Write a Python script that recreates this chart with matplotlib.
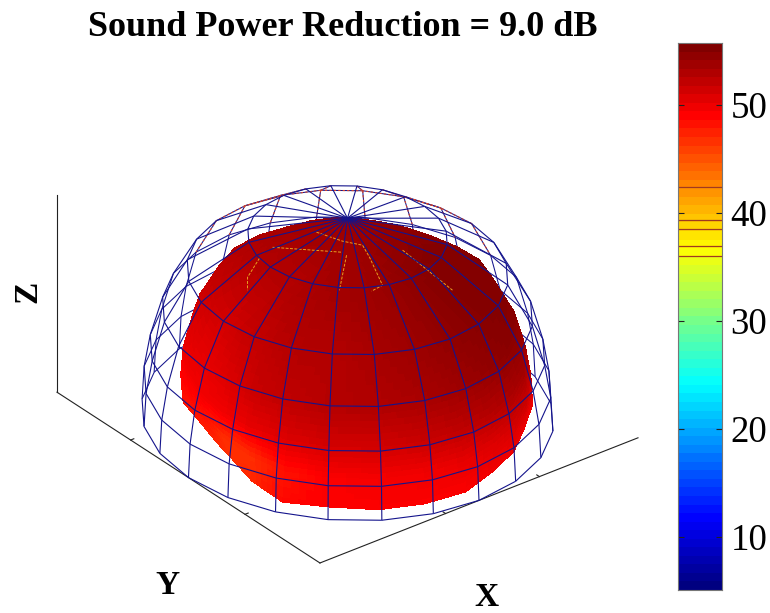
import numpy as np
import matplotlib
matplotlib.use("Agg")
import matplotlib.pyplot as plt
from matplotlib.colors import LinearSegmentedColormap, Normalize
from mpl_toolkits.mplot3d import proj3d
from mpl_toolkits.mplot3d.art3d import Line3DCollection

title = "Sound Power Reduction = 9.0 dB"
cbar_ticks = [10, 20, 30, 40, 50]
cbar_min, cbar_max = 5.1, 55.7
contour_levels = [42.4, 39.3, 38.5, 36.9, 36.0]

# meridians every 15 degrees, starting at -180
azimuth_deg = np.arange(-180, 180, 15)
# wire dome rings, pole to rim
wire_rho = [0.0, 0.485, 0.78, 0.90, 0.96, 0.99, 1.0]
wire_height = [1.0, 0.906, 0.725, 0.525, 0.33, 0.167, 0.0]

# inner radiation surface: scale relative to the wire dome
dome_radius = [.84, .85, .87, .88, .88, .88, .88, .88, .89, .90, .91, .90,
               .88, .87, .86, .86, .86, .86, .86, .86, .85, .84, .83, .83]
rim_radius = [.72, .80, .90, .88, .90, .90, .90, .86, .86, .86, .91, .90,
              .88, .87, .86, .86, .86, .86, .86, .86, .86, .80, .72, .70]
rim_blend = [0, 0, 0, 0, .15, .5, 1]

# sound pressure level on the surface (dB): one list per ring, pole to rim
spl_ring0 = [54.0] * 24
spl_ring1 = [53.0, 53.3, 53.6, 53.8, 54.0, 54.3, 54.6, 55.0, 55.3, 55.5, 55.5, 55.3,
             55.0, 54.8, 54.6, 54.4, 54.2, 54.0, 53.8, 53.6, 53.4, 53.2, 53.0, 53.0]
spl_ring2 = [52.0, 52.5, 53.0, 53.0, 53.5, 54.0, 54.5, 55.0, 55.3, 55.5, 55.5, 55.3,
             55.0, 54.6, 54.2, 54.0, 53.8, 53.6, 53.4, 53.0, 52.6, 52.2, 51.8, 51.5]
spl_ring3 = [51.0, 52.0, 52.5, 53.0, 53.2, 53.5, 54.0, 54.5, 55.0, 55.2, 55.2, 55.0,
             54.6, 54.2, 53.8, 53.5, 53.2, 53.0, 52.6, 52.2, 51.8, 51.2, 50.8, 50.5]
spl_ring4 = [50.0, 50.5, 51.0, 51.5, 51.5, 52.0, 52.5, 53.0, 53.5, 54.0, 54.0, 53.8,
             53.4, 53.0, 52.6, 52.2, 52.0, 51.6, 51.2, 50.8, 50.4, 50.2, 50.0, 50.0]
spl_ring5 = [47.0, 47.0, 48.5, 49.5, 49.8, 50.0, 50.5, 51.0, 51.5, 52.0, 52.0, 51.8,
             51.4, 51.0, 50.8, 50.5, 50.2, 50.0, 49.8, 49.6, 49.4, 49.2, 49.0, 48.5]
spl_ring6 = [47.0, 47.5, 49.0, 49.5, 49.5, 49.5, 49.5, 50.0, 50.0, 50.0, 50.0, 50.0,
             50.0, 49.8, 49.6, 49.5, 49.5, 49.5, 49.5, 49.5, 49.0, 48.5, 48.0, 47.5]

# contour fragments on the surface (x, y, at height contour_z)
contour_z = 0.75
contour_a_x = [-.172, .072]
contour_a_y = [.362, .125]
contour_b_x = [.070, -.169]
contour_b_y = [.092, -.143]
contour_c_x = [.091, .139, .193, .148, .030, -.049]
contour_c_y = [.346, .206, .119, .012, -.230, -.242]
contour_d_x = [-.289, -.451, -.529]
contour_d_y = [.320, .215, .121]
contour_e_x = [.320, .274]
contour_e_y = [-.032, -.467]

x_floor_ticks = [-0.21, 0.38]
y_floor_ticks = [0.44, -0.43]

plt.rcParams['font.family'] = ['Liberation Serif', 'DejaVu Serif']

# MATLAB-style jet
jet = LinearSegmentedColormap.from_list("mjet", [
    (0, (0, 0, .5)), (1/8, (0, 0, 1)), (3/8, (0, 1, 1)),
    (5/8, (1, 1, 0)), (7/8, (1, 0, 0)), (1, (.5, 0, 0))], N=256)
jet64 = LinearSegmentedColormap.from_list("mjet64", [jet(i / 63) for i in range(64)], N=64)
norm = Normalize(cbar_min, cbar_max)

W, H = 770, 613
fig = plt.figure(figsize=(W / 100, H / 100), dpi=100, facecolor='white')

ELEV, AZIM = 30.37, -127.9
size_px = 660
ax = fig.add_axes([0, 0, size_px / W, size_px / H], projection='3d', computed_zorder=False)
ax.set_proj_type('ortho')
ax.view_init(elev=ELEV, azim=AZIM)
ax.set_box_aspect((403, 428, 228))
ax.set_axis_off()
ax.patch.set_alpha(0)

rho = np.array(wire_rho)
hgt = np.array(wire_height)
phi = np.deg2rad(np.r_[azimuth_deg, azimuth_deg[0] + 360])
WX = np.outer(rho, np.cos(phi))
WY = np.outer(rho, np.sin(phi))
WZ = np.outer(hgt, np.ones_like(phi))

cam = np.array([np.cos(np.deg2rad(ELEV)) * np.cos(np.deg2rad(AZIM)),
                np.cos(np.deg2rad(ELEV)) * np.sin(np.deg2rad(AZIM)),
                np.sin(np.deg2rad(ELEV))])
vis = np.array([201.5, 214.0, 228.0])


def is_front(p, q):
    m = (np.asarray(p) + np.asarray(q)) / 2
    return np.dot(m / vis * np.array([201.5, 214, 228]) / 205, cam) > 0


front, back, rear_top = [], [], []
for i in range(7):
    for j in range(24):
        p = (WX[i, j], WY[i, j], WZ[i, j])
        for q, is_ring in (((WX[i, j + 1], WY[i, j + 1], WZ[i, j + 1]), True),
                           ((WX[i + 1, j], WY[i + 1, j], WZ[i + 1, j]) if i < 6 else None, False)):
            if q is None or (is_ring and i == 0):
                continue
            m = (np.array(p) + np.array(q)) / 2
            f = np.dot(m * np.array([1, 1, 1.0]), cam) > 0
            (front if f else back).append([p, q])
            rel = (np.rad2deg(np.arctan2(m[1], m[0])) - AZIM) % 360
            if not f and i <= 2 and 105 <= rel <= 255:
                rear_top.append([p, q])

navy = '#14148c'
ax.add_collection3d(Line3DCollection(back, colors=navy, linewidths=0.75, zorder=1))
ax.add_collection3d(Line3DCollection(rear_top, colors='#d8452a', linewidths=0.8,
                                     linestyles=(0, (2, 2)), zorder=1.5))

# inner surface
n = 6
V = np.array([spl_ring0, spl_ring1, spl_ring2, spl_ring3, spl_ring4, spl_ring5, spl_ring6], float)
V = np.c_[V, V[:, 0]]
dr = np.r_[dome_radius, dome_radius[0]]
rr = np.r_[rim_radius, rim_radius[0]]
blend = np.array(rim_blend)[:, None]
R = dr[None, :] * (1 - blend) + rr[None, :] * blend
R[0, :] = np.mean(dome_radius)
SX, SY, SZ = WX * R, WY * R, WZ * R


def refine(a):
    ru = np.linspace(0, 6, 6 * n + 1)
    rv = np.linspace(0, 24, 24 * n + 1)
    b = np.array([np.interp(ru, np.arange(7), a[:, c]) for c in range(25)]).T
    return np.array([np.interp(rv, np.arange(25), b[r, :]) for r in range(b.shape[0])])


FX, FY, FZ, FV = refine(SX), refine(SY), refine(SZ), refine(V)
cell = (FV[:-1, :-1] + FV[1:, :-1] + FV[:-1, 1:] + FV[1:, 1:]) / 4
ax.plot_surface(FX, FY, FZ, facecolors=jet(norm(cell)), rstride=1, cstride=1,
                shade=False, antialiased=False, linewidth=0, zorder=2)

# contour fragments
for cx, cy in ((contour_a_x, contour_a_y), (contour_b_x, contour_b_y),
               (contour_c_x, contour_c_y), (contour_d_x, contour_d_y),
               (contour_e_x, contour_e_y)):
    ax.plot(cx, cy, [contour_z] * len(cx), color='#e8a020', lw=0.7,
            ls=(0, (3, 1.5)), zorder=3)

ax.add_collection3d(Line3DCollection(front, colors=navy, linewidths=0.8, zorder=4))

# box edges
edge = dict(color='#222222', lw=0.8, zorder=0.5)
ax.plot([-1, -1], [1, -1], [0, 0], **edge)
ax.plot([-1, 1], [-1, -1], [0, 0], **edge)
ax.plot([-1, -1], [1, 1], [0, 1], **edge)
for t in x_floor_ticks:
    ax.plot([t, t], [-1, -0.98], [0, 0], **edge)
for t in y_floor_ticks:
    ax.plot([-1, -0.98], [t, t], [0, 0], **edge)

ax.set_xlim(-1, 1, view_margin=0)
ax.set_ylim(-1, 1, view_margin=0)
ax.set_zlim(0, 1, view_margin=0)

# place the box: left corner (57,392), right corner (638,438) in image pixels
target_left = np.array([57.0, H - 392.0])
target_right = np.array([638.0, H - 438.0])


def to_px(x, y, z):
    X, Y, _ = proj3d.proj_transform(x, y, z, ax.get_proj())
    return ax.transData.transform((X, Y))


for _ in range(3):
    fig.canvas.draw()
    l, r = to_px(-1, 1, 0), to_px(1, -1, 0)
    s = (target_right[0] - target_left[0]) / (r[0] - l[0])
    pos = ax.get_position()
    w_px, h_px = pos.width * W * s, pos.height * H * s
    x0 = pos.x0 * W * s
    y0 = pos.y0 * H * s
    ax.set_position([x0 / W, y0 / H, w_px / W, h_px / H])
    fig.canvas.draw()
    l = to_px(-1, 1, 0)
    r = to_px(1, -1, 0)
    mid = (l + r) / 2
    goal = (target_left + target_right) / 2
    d = goal - mid
    pos = ax.get_position()
    ax.set_position([pos.x0 + d[0] / W, pos.y0 + d[1] / H, pos.width, pos.height])

# colorbar
cax = fig.add_axes([678 / W, (H - 590) / H, 44 / W, 547 / H])
edges = np.linspace(cbar_min, cbar_max, 65)
centers = (edges[:-1] + edges[1:]) / 2
cax.pcolormesh([0, 1], edges, centers[:, None], cmap=jet64, norm=norm, rasterized=False)
cax.set_xlim(0, 1)
cax.set_ylim(cbar_min, cbar_max)
cax.set_xticks([])
cax.set_yticks(cbar_ticks)
cax.tick_params(axis='y', direction='in', left=True, right=True, labelleft=False,
                labelright=True, length=4, width=0.8, color='#222222',
                labelsize=26.6, pad=6)
for lv in contour_levels:
    cax.axhline(lv, color='#a03a20', lw=0.9)
for sp in cax.spines.values():
    sp.set_color('#777777')
    sp.set_linewidth(0.8)

fig.text(343 / W, 1 - 28 / H, title, ha='center', va='center', fontsize=26,
         fontweight='bold')
fig.text(28 / W, 1 - 292 / H, 'Z', ha='center', va='center', fontsize=24,
         fontweight='bold', rotation=90)
fig.text(167 / W, 1 - 586 / H, 'Y', ha='center', va='center', fontsize=24, fontweight='bold')
fig.text(486 / W, 1 - 598 / H, 'X', ha='center', va='center', fontsize=24, fontweight='bold')

fig.savefig('out.png', dpi=100, facecolor='white')
